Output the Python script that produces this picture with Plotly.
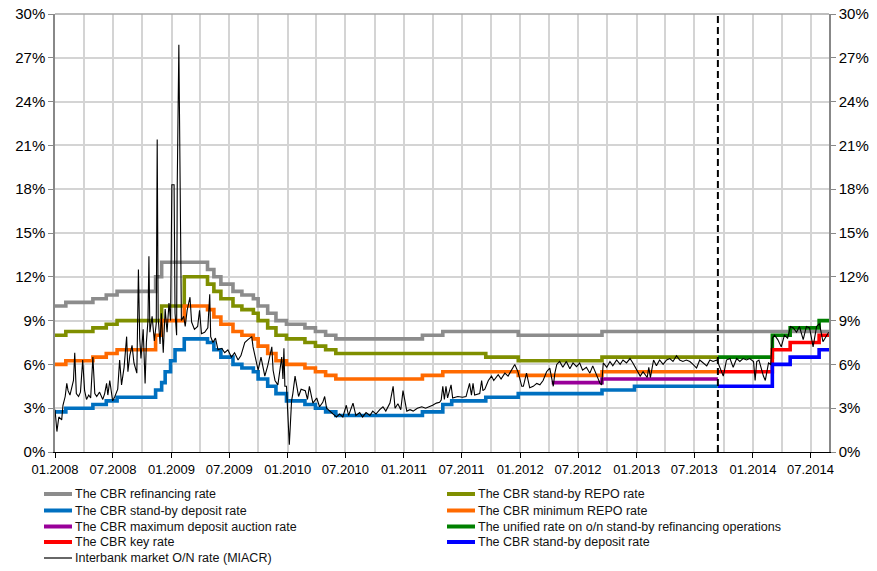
import plotly.graph_objects as go

# ---------------- data ----------------
END_DATE = "2014-08-28"
KEY_RATE_INTRO = "2013-09-13"

REFI_DATES = ["2008-01-01", "2008-02-04", "2008-04-29", "2008-06-10", "2008-07-14", "2008-11-12",
              "2008-12-01", "2009-04-24", "2009-05-14", "2009-06-05", "2009-07-13", "2009-08-10",
              "2009-09-15", "2009-09-30", "2009-10-30", "2009-11-25", "2009-12-28", "2010-02-24",
              "2010-03-29", "2010-04-30", "2010-06-01", "2011-02-28", "2011-05-03", "2011-12-26",
              "2012-09-14", "2014-08-28"]
REFI_VALUES = [10.0, 10.25, 10.5, 10.75, 11.0, 12.0, 13.0, 12.5, 12.0, 11.5, 11.0, 10.75,
               10.5, 10.0, 9.5, 9.0, 8.75, 8.5, 8.25, 8.0, 7.75, 8.0, 8.25, 8.0, 8.25, 8.25]

REPO_SB_DATES = ["2008-01-01", "2008-02-04", "2008-04-29", "2008-06-10", "2008-07-14", "2008-12-01",
                 "2009-02-10", "2009-04-24", "2009-05-14", "2009-06-05", "2009-07-13", "2009-08-10",
                 "2009-09-15", "2009-09-30", "2009-10-30", "2009-11-25", "2009-12-28", "2010-02-24",
                 "2010-03-29", "2010-04-30", "2010-06-01", "2011-09-15", "2011-12-26", "2012-09-14",
                 "2013-09-13"]
REPO_SB_VALUES = [8.0, 8.25, 8.5, 8.75, 9.0, 10.0, 12.0, 11.5, 11.0, 10.5, 10.0, 9.75,
                  9.5, 9.0, 8.5, 8.0, 7.75, 7.5, 7.25, 7.0, 6.75, 6.5, 6.25, 6.5, 6.5]

DEP_SB_DATES = ["2008-01-01", "2008-02-04", "2008-04-29", "2008-06-10", "2008-07-14", "2008-11-12",
                "2008-12-01", "2008-12-12", "2008-12-29", "2009-01-12", "2009-02-10", "2009-04-24",
                "2009-05-14", "2009-06-05", "2009-07-13", "2009-08-10", "2009-09-15", "2009-09-30",
                "2009-10-30", "2009-11-25", "2009-12-28", "2010-02-24", "2010-03-29", "2010-04-30",
                "2010-06-01", "2011-02-28", "2011-05-03", "2011-05-31", "2011-09-15", "2011-12-26",
                "2012-09-14", "2012-12-25", "2013-09-13"]
DEP_SB_VALUES = [2.75, 3.0, 3.25, 3.5, 3.75, 4.25, 4.75, 5.5, 6.25, 7.0, 7.75, 7.5,
                 7.0, 6.5, 6.0, 5.75, 5.5, 5.0, 4.5, 4.0, 3.5, 3.25, 3.0, 2.75,
                 2.5, 2.75, 3.25, 3.5, 3.75, 4.0, 4.25, 4.5, 4.5]

REPO_MIN_DATES = ["2008-01-01", "2008-02-04", "2008-04-29", "2008-06-10", "2008-07-14", "2008-11-12",
                  "2008-12-01", "2009-02-10", "2009-04-24", "2009-05-14", "2009-06-05", "2009-07-13",
                  "2009-08-10", "2009-09-15", "2009-09-30", "2009-10-30", "2009-11-25", "2009-12-28",
                  "2010-02-24", "2010-03-29", "2010-04-30", "2010-06-01", "2011-02-28", "2011-05-03",
                  "2011-12-26", "2012-09-14", "2013-09-13"]
REPO_MIN_VALUES = [6.0, 6.25, 6.5, 6.75, 7.0, 8.0, 9.0, 10.0, 9.75, 9.25, 8.75, 8.25,
                   8.0, 7.75, 7.25, 6.75, 6.25, 6.0, 5.75, 5.5, 5.25, 5.0, 5.25, 5.5,
                   5.25, 5.5, 5.5]

DEP_AUCT_DATES = ["2012-04-09", "2012-09-14", "2013-09-13"]
DEP_AUCT_VALUES = [4.75, 5.0, 5.0]

UNIFIED_DATES = ["2013-09-13", "2014-03-03", "2014-04-28", "2014-07-28", "2014-08-28"]
UNIFIED_VALUES = [6.5, 8.0, 8.5, 9.0, 9.0]

KEY_DATES = ["2013-09-13", "2014-03-03", "2014-04-28", "2014-07-28", "2014-08-28"]
KEY_VALUES = [5.5, 7.0, 7.5, 8.0, 8.0]

DEP_NEW_DATES = ["2013-09-13", "2014-03-03", "2014-04-28", "2014-07-28", "2014-08-28"]
DEP_NEW_VALUES = [4.5, 6.0, 6.5, 7.0, 7.0]

MIACR_DATES = [
    "2008-01-01", "2008-01-07", "2008-01-13", "2008-01-22", "2008-01-26", "2008-02-02", "2008-02-07",
    "2008-02-11", "2008-02-17", "2008-02-28", "2008-03-03", "2008-03-08", "2008-03-15", "2008-03-21",
    "2008-03-28", "2008-04-03", "2008-04-09", "2008-04-16", "2008-04-22", "2008-04-29", "2008-05-05",
    "2008-05-11", "2008-05-20", "2008-05-30", "2008-06-05", "2008-06-11", "2008-06-15", "2008-06-21",
    "2008-06-30", "2008-07-07", "2008-07-16", "2008-07-22", "2008-07-28", "2008-08-05", "2008-08-13",
    "2008-08-17", "2008-08-23", "2008-08-30", "2008-09-05", "2008-09-14", "2008-09-19", "2008-09-23",
    "2008-09-27", "2008-10-04", "2008-10-10", "2008-10-14", "2008-10-19", "2008-10-22", "2008-10-25",
    "2008-11-01", "2008-11-08", "2008-11-14", "2008-11-17", "2008-11-20", "2008-11-26", "2008-11-30",
    "2008-12-06", "2008-12-12", "2008-12-18", "2008-12-24", "2008-12-29", "2009-01-02", "2009-01-09",
    "2009-01-12", "2009-01-17", "2009-01-19", "2009-01-24", "2009-01-28", "2009-02-01", "2009-02-08",
    "2009-02-13", "2009-02-19", "2009-02-28", "2009-03-05", "2009-03-14", "2009-03-24", "2009-03-30",
    "2009-04-05", "2009-04-15", "2009-04-25", "2009-05-01", "2009-05-04", "2009-05-11", "2009-05-19",
    "2009-05-27", "2009-06-08", "2009-06-17", "2009-06-27", "2009-07-08", "2009-07-18", "2009-07-29",
    "2009-08-07", "2009-08-19", "2009-08-29", "2009-09-10", "2009-09-14", "2009-09-20", "2009-09-30",
    "2009-10-09", "2009-10-15", "2009-10-21", "2009-10-30", "2009-11-12", "2009-11-16", "2009-11-22",
    "2009-12-01", "2009-12-13", "2009-12-17", "2009-12-20", "2009-12-23", "2009-12-28", "2010-01-06",
    "2010-01-13", "2010-01-17", "2010-01-24", "2010-02-04", "2010-02-12", "2010-02-25", "2010-03-04",
    "2010-03-10", "2010-03-21", "2010-04-02", "2010-04-11", "2010-04-21", "2010-04-27", "2010-05-03",
    "2010-05-13", "2010-05-22", "2010-06-03", "2010-06-13", "2010-06-23", "2010-07-04", "2010-07-11",
    "2010-07-25", "2010-08-03", "2010-08-15", "2010-08-24", "2010-09-04", "2010-09-16", "2010-09-25",
    "2010-10-05", "2010-10-17", "2010-10-27", "2010-11-05", "2010-11-18", "2010-11-28", "2010-12-04",
    "2010-12-13", "2010-12-22", "2010-12-29", "2011-01-10", "2011-01-20", "2011-01-30", "2011-02-12",
    "2011-02-26", "2011-03-10", "2011-03-22", "2011-04-01", "2011-04-13", "2011-04-23", "2011-04-28",
    "2011-05-03", "2011-05-08", "2011-05-13", "2011-05-18", "2011-05-29", "2011-06-03", "2011-06-19",
    "2011-07-04", "2011-07-15", "2011-07-26", "2011-08-01", "2011-08-06", "2011-08-11", "2011-08-27",
    "2011-09-02", "2011-09-06", "2011-09-12", "2011-09-23", "2011-10-03", "2011-10-10", "2011-10-24",
    "2011-11-02", "2011-11-14", "2011-11-24", "2011-12-05", "2011-12-15", "2011-12-25", "2012-01-06",
    "2012-01-11", "2012-01-16", "2012-01-21", "2012-01-31", "2012-02-11", "2012-02-22", "2012-03-03",
    "2012-03-13", "2012-03-24", "2012-04-03", "2012-04-14", "2012-04-19", "2012-04-25", "2012-05-04",
    "2012-05-14", "2012-05-25", "2012-06-05", "2012-06-15", "2012-06-26", "2012-07-06", "2012-07-15",
    "2012-07-27", "2012-08-07", "2012-08-16", "2012-08-28", "2012-09-08", "2012-09-13", "2012-09-18",
    "2012-09-29", "2012-10-09", "2012-10-18", "2012-10-30", "2012-11-10", "2012-11-19", "2012-11-30",
    "2012-12-11", "2012-12-20", "2013-01-02", "2013-01-12", "2013-01-21", "2013-02-03", "2013-02-08",
    "2013-02-13", "2013-02-23", "2013-03-04", "2013-03-14", "2013-03-25", "2013-04-05", "2013-04-15",
    "2013-04-25", "2013-05-06", "2013-05-16", "2013-05-26", "2013-06-06", "2013-06-17", "2013-06-27",
    "2013-07-08", "2013-07-18", "2013-07-28", "2013-08-09", "2013-08-19", "2013-08-29", "2013-09-10",
    "2013-09-20", "2013-09-30", "2013-10-10", "2013-10-21", "2013-10-31", "2013-11-11", "2013-11-21",
    "2013-12-01", "2013-12-12", "2013-12-22", "2014-01-03", "2014-01-08", "2014-01-13", "2014-01-20",
    "2014-02-03", "2014-02-09", "2014-02-19", "2014-02-26", "2014-03-03", "2014-03-10", "2014-03-20",
    "2014-03-31", "2014-04-10", "2014-04-20", "2014-04-29", "2014-05-08", "2014-05-18", "2014-05-27",
    "2014-06-08", "2014-06-18", "2014-06-28", "2014-07-09", "2014-07-20", "2014-07-29", "2014-08-09",
    "2014-08-20", "2014-08-27"]
MIACR_VALUES = [
    2.9, 1.4, 2.4, 2.2, 3.2, 3.8, 4.7,
    4.2, 3.9, 4.9, 6.8, 4.0, 3.8, 4.1,
    6.3, 4.2, 3.6, 3.9, 3.7, 6.5, 4.0,
    3.8, 4.1, 3.6, 4.0, 4.7, 3.9, 4.9,
    3.5, 3.8, 4.3, 6.3, 4.6, 5.8, 7.9,
    5.5, 6.6, 7.3, 6.1, 5.4, 12.5, 7.8,
    6.4, 8.4, 4.7, 7.5, 9.0, 13.4, 8.2,
    9.3, 7.6, 8.8, 21.4, 9.2, 7.4, 9.5,
    6.8, 9.8, 8.2, 10.2, 9.0, 18.3, 18.3,
    9.5, 8.0, 18.4, 27.9, 14.5, 9.0, 9.3,
    8.6, 9.7, 10.6, 8.9, 8.4, 8.6, 9.7,
    8.1, 8.2, 8.5, 10.8, 7.9, 7.5, 7.8,
    7.0, 7.1, 6.8, 7.0, 6.5, 6.8, 6.3,
    6.6, 7.5, 7.7, 7.9, 7.2, 6.5, 5.6,
    6.5, 5.8, 5.2, 5.9, 7.2, 5.6, 4.9,
    4.6, 6.5, 5.0, 7.1, 4.5, 4.5, 0.5,
    3.5, 4.0, 5.2, 3.8, 4.3, 4.2, 3.6,
    4.5, 3.35, 3.7, 3.1, 3.4, 3.8, 3.0,
    2.8, 2.6, 2.4, 2.6, 2.4, 3.2, 2.5,
    3.35, 2.5, 2.7, 2.4, 2.7, 2.5, 2.8,
    2.6, 2.9, 3.1, 2.8, 3.35, 4.5, 3.0,
    3.3, 2.9, 4.2, 2.8, 2.9, 2.8, 3.0,
    3.1, 3.0, 3.1, 3.2, 3.35, 3.4, 3.56,
    4.5, 3.6, 4.5, 3.7, 4.6, 3.7, 3.8,
    3.75, 3.8, 4.7, 3.9, 4.7, 3.9, 4.0,
    4.9, 4.2, 4.3, 4.9, 5.2, 4.9, 5.3,
    5.0, 5.4, 5.2, 5.6, 6.0, 5.5, 4.5,
    4.5, 5.0, 5.4, 4.4, 4.5, 4.7, 4.6,
    4.9, 5.5, 5.75, 4.5, 5.4, 6.0, 6.2,
    5.8, 6.2, 5.7, 6.1, 5.85, 6.1, 5.6,
    5.8, 5.4, 5.9, 5.2, 4.7, 4.6, 6.1,
    5.8, 6.2, 5.9, 6.3, 6.0, 6.3, 6.1,
    6.4, 6.1, 5.6, 5.2, 5.5, 5.1, 5.8,
    5.1, 6.3, 5.9, 6.3, 6.0, 6.3, 6.4,
    6.2, 6.6, 6.3, 6.2, 6.3, 6.2, 6.0,
    5.75, 6.3, 6.1, 5.9, 6.3, 6.2, 6.3,
    5.75, 5.2, 6.3, 6.4, 5.8, 6.4, 6.2,
    6.4, 6.3, 6.4, 6.2, 4.9, 6.2, 6.3,
    5.2, 4.9, 6.1, 6.0, 7.8, 8.0, 7.7,
    7.2, 8.0, 7.8, 8.6, 8.5, 8.2, 8.6,
    7.7, 8.6, 8.5, 7.2, 8.6, 8.8, 7.55,
    8.0, 8.2]

Y_TICKS = [0, 3, 6, 9, 12, 15, 18, 21, 24, 27, 30]
Y_TICK_LABELS = ["0%", "3%", "6%", "9%", "12%", "15%", "18%", "21%", "24%", "27%", "30%"]

# ---------------- figure ----------------
SERIES = [
    ("The CBR refinancing rate", REFI_DATES, REFI_VALUES, "#8c8c8c"),
    ("The CBR stand-by REPO rate", REPO_SB_DATES, REPO_SB_VALUES, "#7f8f00"),
    ("The CBR stand-by deposit rate", DEP_SB_DATES, DEP_SB_VALUES, "#0070c0"),
    ("The CBR minimum REPO rate", REPO_MIN_DATES, REPO_MIN_VALUES, "#ff6a00"),
    ("The CBR maximum deposit auction rate", DEP_AUCT_DATES, DEP_AUCT_VALUES, "#990099"),
    ("The unified rate on o/n stand-by refinancing operations", UNIFIED_DATES, UNIFIED_VALUES, "#008000"),
    ("The CBR key rate", KEY_DATES, KEY_VALUES, "#ff0000"),
    ("The CBR stand-by deposit rate", DEP_NEW_DATES, DEP_NEW_VALUES, "#0000ff"),
]

fig = go.Figure()
for name, xs, ys, col in SERIES:
    fig.add_trace(go.Scatter(x=xs, y=ys, mode="lines", name=name,
                             line=dict(color=col, width=3.6, shape="hv"), showlegend=False))
fig.add_trace(go.Scatter(x=MIACR_DATES, y=MIACR_VALUES, mode="lines",
                         name="Interbank market O/N rate (MIACR)", yaxis="y2",
                         line=dict(color="#000000", width=1.1), showlegend=False))

# plot area in pixels
W, H = 877, 571
PL, PT, PW, PH = 55, 14, 774, 438


def px(x):
    return (x - PL) / PW


def py(y):
    return (PT + PH - y) / PH


grid = "#d4d4d4"
FONT = "Liberation Sans, Arial, sans-serif"
tickfont = dict(family=FONT, size=15, color="#000")

fig.update_layout(
    width=W, height=H, autosize=False,
    margin=dict(l=PL, r=W - PL - PW, t=PT, b=H - PT - PH),
    paper_bgcolor="white", plot_bgcolor="white",
    showlegend=False,
    xaxis=dict(type="date", range=["2008-01-01", END_DATE], automargin=False,
               tick0="2008-01-01", dtick="M6", tickformat="%m.%Y",
               ticks="outside", ticklen=5, tickcolor="#000",
               showline=True, linecolor="#000", linewidth=1,
               showgrid=True, gridcolor=grid, gridwidth=1.5,
               minor=dict(dtick="M3", showgrid=True, gridcolor=grid, gridwidth=1.5),
               tickfont=dict(family=FONT, size=13, color="#000"),
               zeroline=False),
    yaxis=dict(range=[0, 30], tickmode="array", tickvals=Y_TICKS, ticktext=Y_TICK_LABELS,
               automargin=False,
               ticks="outside", ticklen=5, tickcolor="#888",
               showline=True, linecolor="#888", linewidth=1.5,
               showgrid=True, gridcolor=grid, gridwidth=1.5, zeroline=False,
               tickfont=tickfont),
    yaxis2=dict(range=[0, 30], tickmode="array", tickvals=Y_TICKS, ticktext=Y_TICK_LABELS,
                overlaying="y", side="right", automargin=False,
                ticks="outside", ticklen=5, tickcolor="#888",
                showline=True, linecolor="#888", linewidth=1.5,
                showgrid=False, zeroline=False, tickfont=tickfont),
)

# top border and key-rate dashed line
fig.add_shape(type="line", xref="paper", yref="paper", x0=0, x1=1, y0=1, y1=1,
              line=dict(color="#a8a8a8", width=1.5))
fig.add_shape(type="line", xref="x", yref="paper", x0=KEY_RATE_INTRO, x1=KEY_RATE_INTRO, y0=0, y1=1,
              line=dict(color="#000", width=2, dash="7px,4px"))

# manual legend (two columns)
LEGEND_ITEMS = [(s[0], s[3], 4) for s in SERIES] + [("Interbank market O/N rate (MIACR)", "#000000", 1.2)]
ROW_Y = [494, 510.5, 526.5, 542, 558]
COL_X = [44, 447]
for i, (name, col, lw) in enumerate(LEGEND_ITEMS):
    r, c = divmod(i, 2)
    x0 = COL_X[c]
    yy = py(ROW_Y[r])
    fig.add_shape(type="line", xref="paper", yref="paper", x0=px(x0), x1=px(x0 + 28), y0=yy, y1=yy,
                  line=dict(color=col, width=lw))
    fig.add_annotation(xref="paper", yref="paper", x=px(x0 + 29), y=yy, text=name, showarrow=False,
                       xanchor="left", yanchor="middle",
                       font=dict(family=FONT, size=12.5, color="#111"))

fig.write_html("out.html", config={"displayModeBar": False},
               post_script="document.body.style.margin='0';")
